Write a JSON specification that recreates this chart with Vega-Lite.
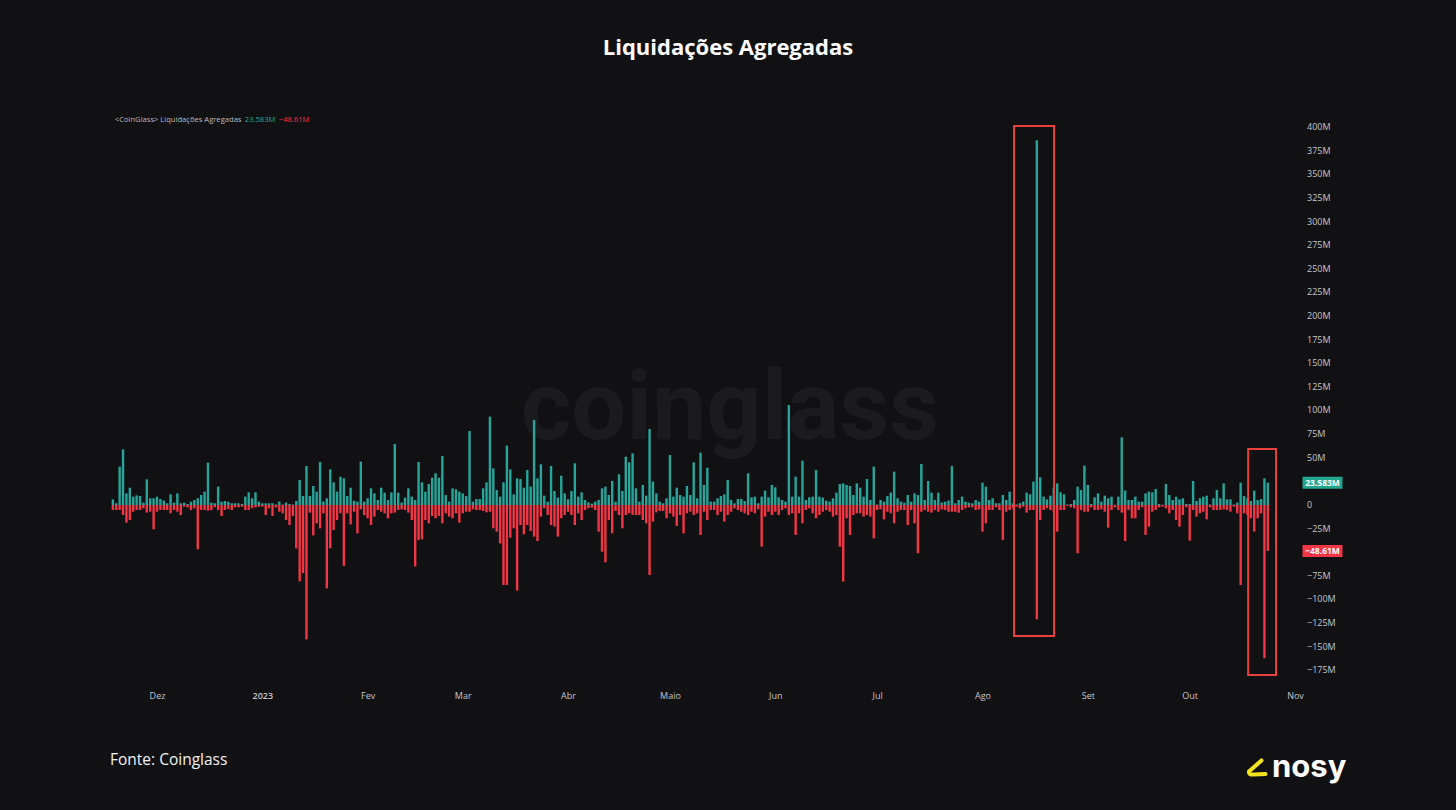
{
"$schema": "https://vega.github.io/schema/vega-lite/v6.json",
"width": 1198, "height": 575,
"autosize": {"type": "none"},
"padding": {"left": 100, "top": 110, "right": 158, "bottom": 125},
"background": "#111114",
"config": {"view": {"stroke": null}, "font": "Open Sans", "axis": {"grid": false, "domain": false, "ticks": false, "tickSize": 0}},
"title": {"text": "Liquidações Agregadas", "font": "Open Sans", "fontSize": 22, "fontWeight": "bold", "color": "#ffffff", "anchor": "middle", "frame": "group", "dx": 29, "offset": 50},
"data": {"values": [
{"d":"2022-11-18","l":6.0,"s":-5.3},{"d":"2022-11-19","l":1.8,"s":-5.3},{"d":"2022-11-20","l":40.6,"s":-5.3},{"d":"2022-11-21","l":58.9,"s":-10.6},{"d":"2022-11-22","l":12.3,"s":-18.7},{"d":"2022-11-23","l":18.3,"s":-15.9},{"d":"2022-11-24","l":8.8,"s":-7.1},{"d":"2022-11-25","l":10.2,"s":-5.3},{"d":"2022-11-26","l":9.5,"s":-5.3},{"d":"2022-11-27","l":2.5,"s":-3.5},{"d":"2022-11-28","l":27.2,"s":-8.1},{"d":"2022-11-29","l":7.1,"s":-7.1},{"d":"2022-11-30","l":7.1,"s":-25.7},
{"d":"2022-12-01","l":8.8,"s":-7.1},{"d":"2022-12-02","l":6.3,"s":-5.3},{"d":"2022-12-03","l":4.6,"s":-5.3},{"d":"2022-12-04","l":1.8,"s":-5.3},{"d":"2022-12-05","l":11.3,"s":-8.8},{"d":"2022-12-06","l":2.5,"s":-5.3},{"d":"2022-12-07","l":12.3,"s":-7.1},{"d":"2022-12-08","l":1.8,"s":-10.6},{"d":"2022-12-09","l":2.5,"s":-1.8},{"d":"2022-12-10","l":1.1,"s":-2.5},{"d":"2022-12-11","l":3.5,"s":-5.3},{"d":"2022-12-12","l":5.3,"s":-3.5},{"d":"2022-12-13","l":7.1,"s":-46.9},{"d":"2022-12-14","l":10.6,"s":-5.3},{"d":"2022-12-15","l":14.1,"s":-5.3},{"d":"2022-12-16","l":44.8,"s":-6.0},{"d":"2022-12-17","l":2.5,"s":-5.3},{"d":"2022-12-18","l":1.8,"s":-2.5},{"d":"2022-12-19","l":19.4,"s":-5.3},{"d":"2022-12-20","l":3.5,"s":-11.6},{"d":"2022-12-21","l":4.2,"s":-5.3},{"d":"2022-12-22","l":3.5,"s":-4.2},{"d":"2022-12-23","l":1.8,"s":-5.3},{"d":"2022-12-24","l":1.8,"s":-2.5},{"d":"2022-12-25","l":1.8,"s":-2.5},{"d":"2022-12-26","l":1.1,"s":-1.8},{"d":"2022-12-27","l":8.8,"s":-5.3},{"d":"2022-12-28","l":13.4,"s":-5.3},{"d":"2022-12-29","l":7.1,"s":-3.5},{"d":"2022-12-30","l":13.4,"s":-2.5},{"d":"2022-12-31","l":3.5,"s":-1.8},
{"d":"2023-01-01","l":1.8,"s":-1.8},{"d":"2023-01-02","l":1.8,"s":-10.6},{"d":"2023-01-03","l":1.8,"s":-3.5},{"d":"2023-01-04","l":1.8,"s":-11.6},{"d":"2023-01-05","l":0.5,"s":-2.5},{"d":"2023-01-06","l":3.5,"s":-7.1},{"d":"2023-01-07","l":0.5,"s":-8.8},{"d":"2023-01-08","l":2.5,"s":-15.9},{"d":"2023-01-09","l":1.1,"s":-21.2},{"d":"2023-01-10","l":0.5,"s":-11.6},{"d":"2023-01-11","l":4.2,"s":-45.9},{"d":"2023-01-12","l":26.5,"s":-80.8},{"d":"2023-01-13","l":9.5,"s":-72.0},{"d":"2023-01-14","l":41.3,"s":-142.2},{"d":"2023-01-15","l":9.5,"s":-8.1},{"d":"2023-01-16","l":20.1,"s":-32.2},{"d":"2023-01-17","l":14.1,"s":-19.4},{"d":"2023-01-18","l":45.5,"s":-24.7},{"d":"2023-01-19","l":3.5,"s":-8.8},{"d":"2023-01-20","l":7.1,"s":-88.2},{"d":"2023-01-21","l":37.7,"s":-45.9},{"d":"2023-01-22","l":24.0,"s":-26.5},{"d":"2023-01-23","l":14.1,"s":-15.9},{"d":"2023-01-24","l":29.9,"s":-8.8},{"d":"2023-01-25","l":28.2,"s":-64.4},{"d":"2023-01-26","l":9.5,"s":-8.8},{"d":"2023-01-27","l":18.3,"s":-20.5},{"d":"2023-01-28","l":4.6,"s":-7.1},{"d":"2023-01-29","l":3.5,"s":-30.0},{"d":"2023-01-30","l":45.9,"s":-4.6},{"d":"2023-01-31","l":3.5,"s":-10.6},
{"d":"2023-02-01","l":7.1,"s":-14.1},{"d":"2023-02-02","l":17.6,"s":-21.2},{"d":"2023-02-03","l":12.3,"s":-12.3},{"d":"2023-02-04","l":5.3,"s":-5.3},{"d":"2023-02-05","l":18.3,"s":-7.1},{"d":"2023-02-06","l":13.0,"s":-8.8},{"d":"2023-02-07","l":5.3,"s":-14.1},{"d":"2023-02-08","l":13.4,"s":-8.8},{"d":"2023-02-09","l":64.6,"s":-8.1},{"d":"2023-02-10","l":13.0,"s":-5.3},{"d":"2023-02-11","l":2.5,"s":-4.6},{"d":"2023-02-12","l":7.8,"s":-5.3},{"d":"2023-02-13","l":17.6,"s":-8.1},{"d":"2023-02-14","l":8.8,"s":-15.9},{"d":"2023-02-15","l":5.3,"s":-65.0},{"d":"2023-02-16","l":45.5,"s":-37.0},{"d":"2023-02-17","l":24.0,"s":-36.3},{"d":"2023-02-18","l":14.1,"s":-15.9},{"d":"2023-02-19","l":22.2,"s":-19.4},{"d":"2023-02-20","l":28.9,"s":-11.6},{"d":"2023-02-21","l":33.5,"s":-14.1},{"d":"2023-02-22","l":28.9,"s":-11.6},{"d":"2023-02-23","l":51.8,"s":-19.4},{"d":"2023-02-24","l":10.6,"s":-8.8},{"d":"2023-02-25","l":3.5,"s":-12.3},{"d":"2023-02-26","l":17.6,"s":-14.1},{"d":"2023-02-27","l":16.6,"s":-8.8},{"d":"2023-02-28","l":14.1,"s":-18.7},
{"d":"2023-03-01","l":12.3,"s":-8.8},{"d":"2023-03-02","l":9.5,"s":-7.1},{"d":"2023-03-03","l":78.3,"s":-7.1},{"d":"2023-03-04","l":3.5,"s":-4.6},{"d":"2023-03-05","l":6.3,"s":-5.3},{"d":"2023-03-06","l":6.3,"s":-5.3},{"d":"2023-03-07","l":17.6,"s":-6.3},{"d":"2023-03-08","l":24.0,"s":-7.8},{"d":"2023-03-09","l":93.5,"s":-7.1},{"d":"2023-03-10","l":38.8,"s":-24.7},{"d":"2023-03-11","l":15.9,"s":-28.2},{"d":"2023-03-12","l":8.8,"s":-40.6},{"d":"2023-03-13","l":24.0,"s":-84.7},{"d":"2023-03-14","l":62.8,"s":-84.7},{"d":"2023-03-15","l":37.7,"s":-34.6},{"d":"2023-03-16","l":11.3,"s":-24.7},{"d":"2023-03-17","l":28.2,"s":-90.7},{"d":"2023-03-18","l":27.5,"s":-21.2},{"d":"2023-03-19","l":18.3,"s":-31.0},{"d":"2023-03-20","l":37.0,"s":-21.2},{"d":"2023-03-21","l":19.4,"s":-27.5},{"d":"2023-03-22","l":90.0,"s":-33.5},{"d":"2023-03-23","l":28.2,"s":-38.1},{"d":"2023-03-24","l":43.0,"s":-12.3},{"d":"2023-03-25","l":9.9,"s":-3.5},{"d":"2023-03-26","l":3.5,"s":-10.6},{"d":"2023-03-27","l":41.3,"s":-21.2},{"d":"2023-03-28","l":14.8,"s":-22.9},{"d":"2023-03-29","l":7.8,"s":-33.5},{"d":"2023-03-30","l":31.0,"s":-14.1},{"d":"2023-03-31","l":12.3,"s":-10.6},
{"d":"2023-04-01","l":6.0,"s":-7.1},{"d":"2023-04-02","l":14.8,"s":-10.6},{"d":"2023-04-03","l":44.1,"s":-21.2},{"d":"2023-04-04","l":8.8,"s":-8.8},{"d":"2023-04-05","l":13.4,"s":-15.9},{"d":"2023-04-06","l":5.3,"s":-5.3},{"d":"2023-04-07","l":2.8,"s":-3.5},{"d":"2023-04-08","l":1.4,"s":-2.8},{"d":"2023-04-09","l":3.5,"s":-5.3},{"d":"2023-04-10","l":5.3,"s":-28.2},{"d":"2023-04-11","l":17.6,"s":-49.4},{"d":"2023-04-12","l":19.4,"s":-60.7},{"d":"2023-04-13","l":10.6,"s":-15.9},{"d":"2023-04-14","l":25.4,"s":-30.0},{"d":"2023-04-15","l":3.5,"s":-6.3},{"d":"2023-04-16","l":32.5,"s":-10.6},{"d":"2023-04-17","l":14.8,"s":-24.7},{"d":"2023-04-18","l":51.1,"s":-10.6},{"d":"2023-04-19","l":45.1,"s":-8.8},{"d":"2023-04-20","l":54.7,"s":-10.6},{"d":"2023-04-21","l":17.6,"s":-10.6},{"d":"2023-04-22","l":3.5,"s":-10.6},{"d":"2023-04-23","l":21.2,"s":-15.9},{"d":"2023-04-24","l":9.9,"s":-19.4},{"d":"2023-04-25","l":80.4,"s":-74.1},{"d":"2023-04-26","l":24.7,"s":-17.6},{"d":"2023-04-27","l":12.3,"s":-7.8},{"d":"2023-04-28","l":3.5,"s":-6.3},{"d":"2023-04-29","l":1.8,"s":-6.3},{"d":"2023-04-30","l":7.1,"s":-14.1},
{"d":"2023-05-01","l":52.9,"s":-8.8},{"d":"2023-05-02","l":8.8,"s":-12.3},{"d":"2023-05-03","l":18.3,"s":-22.2},{"d":"2023-05-04","l":10.6,"s":-10.6},{"d":"2023-05-05","l":8.8,"s":-30.0},{"d":"2023-05-06","l":20.1,"s":-8.8},{"d":"2023-05-07","l":10.6,"s":-7.1},{"d":"2023-05-08","l":45.1,"s":-10.6},{"d":"2023-05-09","l":7.1,"s":-8.8},{"d":"2023-05-10","l":55.4,"s":-31.7},{"d":"2023-05-11","l":21.2,"s":-7.1},{"d":"2023-05-12","l":39.5,"s":-15.9},{"d":"2023-05-13","l":3.5,"s":-5.3},{"d":"2023-05-14","l":3.5,"s":-5.3},{"d":"2023-05-15","l":7.1,"s":-10.6},{"d":"2023-05-16","l":9.5,"s":-7.1},{"d":"2023-05-17","l":11.3,"s":-17.6},{"d":"2023-05-18","l":26.5,"s":-10.6},{"d":"2023-05-19","l":5.3,"s":-7.1},{"d":"2023-05-20","l":1.8,"s":-3.5},{"d":"2023-05-21","l":6.3,"s":-5.3},{"d":"2023-05-22","l":6.3,"s":-7.1},{"d":"2023-05-23","l":4.2,"s":-8.8},{"d":"2023-05-24","l":33.5,"s":-10.6},{"d":"2023-05-25","l":8.1,"s":-7.1},{"d":"2023-05-26","l":8.8,"s":-8.8},{"d":"2023-05-27","l":1.8,"s":-4.6},{"d":"2023-05-28","l":8.8,"s":-44.1},{"d":"2023-05-29","l":15.2,"s":-12.3},{"d":"2023-05-30","l":8.1,"s":-7.1},{"d":"2023-05-31","l":21.2,"s":-10.6},
{"d":"2023-06-01","l":18.7,"s":-7.1},{"d":"2023-06-02","l":8.1,"s":-10.6},{"d":"2023-06-03","l":5.3,"s":-5.3},{"d":"2023-06-04","l":3.5,"s":-3.5},{"d":"2023-06-05","l":105.8,"s":-10.6},{"d":"2023-06-06","l":8.8,"s":-8.8},{"d":"2023-06-07","l":30.0,"s":-31.7},{"d":"2023-06-08","l":8.8,"s":-8.8},{"d":"2023-06-09","l":46.9,"s":-19.4},{"d":"2023-06-10","l":5.3,"s":-5.3},{"d":"2023-06-11","l":8.1,"s":-3.5},{"d":"2023-06-12","l":8.8,"s":-8.8},{"d":"2023-06-13","l":37.0,"s":-14.1},{"d":"2023-06-14","l":8.8,"s":-10.6},{"d":"2023-06-15","l":7.8,"s":-7.1},{"d":"2023-06-16","l":4.6,"s":-5.3},{"d":"2023-06-17","l":3.5,"s":-7.1},{"d":"2023-06-18","l":7.1,"s":-12.3},{"d":"2023-06-19","l":13.1,"s":-10.6},{"d":"2023-06-20","l":22.2,"s":-44.1},{"d":"2023-06-21","l":22.9,"s":-81.1},{"d":"2023-06-22","l":21.2,"s":-14.1},{"d":"2023-06-23","l":20.1,"s":-31.7},{"d":"2023-06-24","l":10.6,"s":-10.6},{"d":"2023-06-25","l":22.9,"s":-8.8},{"d":"2023-06-26","l":18.3,"s":-8.8},{"d":"2023-06-27","l":8.8,"s":-12.3},{"d":"2023-06-28","l":27.5,"s":-10.6},{"d":"2023-06-29","l":5.3,"s":-12.3},{"d":"2023-06-30","l":40.6,"s":-35.3},
{"d":"2023-07-01","l":0.5,"s":-5.3},{"d":"2023-07-02","l":5.3,"s":-4.6},{"d":"2023-07-03","l":3.5,"s":-15.2},{"d":"2023-07-04","l":9.5,"s":-7.1},{"d":"2023-07-05","l":13.1,"s":-8.8},{"d":"2023-07-06","l":35.3,"s":-19.4},{"d":"2023-07-07","l":7.1,"s":-7.1},{"d":"2023-07-08","l":3.5,"s":-5.3},{"d":"2023-07-09","l":2.5,"s":-5.3},{"d":"2023-07-10","l":10.6,"s":-21.2},{"d":"2023-07-11","l":3.5,"s":-5.3},{"d":"2023-07-12","l":12.3,"s":-19.4},{"d":"2023-07-13","l":10.6,"s":-51.1},{"d":"2023-07-14","l":43.4,"s":-7.1},{"d":"2023-07-15","l":5.3,"s":-5.3},{"d":"2023-07-16","l":25.4,"s":-7.1},{"d":"2023-07-17","l":13.1,"s":-8.1},{"d":"2023-07-18","l":5.3,"s":-5.3},{"d":"2023-07-19","l":13.1,"s":-7.1},{"d":"2023-07-20","l":2.5,"s":-4.6},{"d":"2023-07-21","l":3.5,"s":-5.3},{"d":"2023-07-22","l":4.6,"s":-7.1},{"d":"2023-07-23","l":41.3,"s":-7.1},{"d":"2023-07-24","l":1.8,"s":-7.1},{"d":"2023-07-25","l":5.3,"s":-8.1},{"d":"2023-07-26","l":8.8,"s":-5.3},{"d":"2023-07-27","l":3.5,"s":-3.5},{"d":"2023-07-28","l":2.5,"s":-2.5},{"d":"2023-07-29","l":1.8,"s":-2.5},{"d":"2023-07-30","l":5.3,"s":-5.3},{"d":"2023-07-31","l":3.5,"s":-4.6},
{"d":"2023-08-01","l":23.6,"s":-28.2},{"d":"2023-08-02","l":19.4,"s":-19.4},{"d":"2023-08-03","l":5.3,"s":-5.3},{"d":"2023-08-04","l":7.1,"s":-5.3},{"d":"2023-08-05","l":1.8,"s":-2.5},{"d":"2023-08-06","l":1.8,"s":-5.3},{"d":"2023-08-07","l":10.6,"s":-37.0},{"d":"2023-08-08","l":5.3,"s":-7.1},{"d":"2023-08-09","l":14.1,"s":-5.3},{"d":"2023-08-10","l":1.8,"s":-3.5},{"d":"2023-08-11","l":0.5,"s":-1.8},{"d":"2023-08-12","l":1.8,"s":-3.5},{"d":"2023-08-13","l":3.5,"s":-1.8},{"d":"2023-08-14","l":13.1,"s":-8.1},{"d":"2023-08-15","l":11.3,"s":-5.3},{"d":"2023-08-16","l":24.7,"s":-5.3},{"d":"2023-08-17","l":386,"s":-121},{"d":"2023-08-18","l":29.3,"s":-15.9},{"d":"2023-08-19","l":8.8,"s":-5.3},{"d":"2023-08-20","l":6.0,"s":-3.5},{"d":"2023-08-21","l":9.9,"s":-5.3},{"d":"2023-08-22","l":18.3,"s":-8.1},{"d":"2023-08-23","l":22.9,"s":-28.2},{"d":"2023-08-24","l":13.4,"s":-5.3},{"d":"2023-08-25","l":11.3,"s":-5.3},{"d":"2023-08-26","l":0.5,"s":-1.1},{"d":"2023-08-27","l":1.1,"s":-2.5},{"d":"2023-08-28","l":5.3,"s":-3.5},{"d":"2023-08-29","l":19.4,"s":-51.1},{"d":"2023-08-30","l":15.9,"s":-5.3},{"d":"2023-08-31","l":41.6,"s":-7.1},
{"d":"2023-09-01","l":21.2,"s":-7.1},{"d":"2023-09-02","l":1.1,"s":-2.5},{"d":"2023-09-03","l":8.1,"s":-5.3},{"d":"2023-09-04","l":12.3,"s":-5.3},{"d":"2023-09-05","l":3.5,"s":-4.6},{"d":"2023-09-06","l":9.9,"s":-7.1},{"d":"2023-09-07","l":7.1,"s":-24.0},{"d":"2023-09-08","l":8.8,"s":-5.3},{"d":"2023-09-09","l":0.3,"s":-2.5},{"d":"2023-09-10","l":8.8,"s":-5.3},{"d":"2023-09-11","l":71.6,"s":-8.1},{"d":"2023-09-12","l":15.2,"s":-38.1},{"d":"2023-09-13","l":5.3,"s":-5.3},{"d":"2023-09-14","l":5.3,"s":-14.1},{"d":"2023-09-15","l":8.8,"s":-14.1},{"d":"2023-09-16","l":3.5,"s":-5.3},{"d":"2023-09-17","l":3.5,"s":-2.5},{"d":"2023-09-18","l":12.3,"s":-31.7},{"d":"2023-09-19","l":14.1,"s":-22.9},{"d":"2023-09-20","l":13.4,"s":-7.1},{"d":"2023-09-21","l":16.9,"s":-5.3},{"d":"2023-09-22","l":1.1,"s":-2.5},{"d":"2023-09-23","l":0.3,"s":-1.8},{"d":"2023-09-24","l":22.2,"s":-3.5},{"d":"2023-09-25","l":10.6,"s":-8.8},{"d":"2023-09-26","l":5.3,"s":-5.3},{"d":"2023-09-27","l":8.8,"s":-15.9},{"d":"2023-09-28","l":6.0,"s":-22.9},{"d":"2023-09-29","l":7.1,"s":-10.6},{"d":"2023-09-30","l":1.1,"s":-2.5},
{"d":"2023-10-01","l":1.1,"s":-37.7},{"d":"2023-10-02","l":25.4,"s":-5.3},{"d":"2023-10-03","l":4.2,"s":-12.3},{"d":"2023-10-04","l":7.1,"s":-8.8},{"d":"2023-10-05","l":8.8,"s":-7.1},{"d":"2023-10-06","l":9.9,"s":-15.2},{"d":"2023-10-07","l":0.5,"s":-2.5},{"d":"2023-10-08","l":7.1,"s":-5.3},{"d":"2023-10-09","l":15.9,"s":-5.3},{"d":"2023-10-10","l":7.1,"s":-5.3},{"d":"2023-10-11","l":22.9,"s":-4.6},{"d":"2023-10-12","l":6.0,"s":-5.3},{"d":"2023-10-13","l":6.0,"s":-7.1},{"d":"2023-10-14","l":0.5,"s":-1.8},{"d":"2023-10-15","l":2.5,"s":-8.8},{"d":"2023-10-16","l":23.6,"s":-84.7},{"d":"2023-10-17","l":9.5,"s":-8.8},{"d":"2023-10-18","l":7.1,"s":-10.6},{"d":"2023-10-19","l":4.2,"s":-14.1},{"d":"2023-10-20","l":15.2,"s":-28.2},{"d":"2023-10-21","l":5.3,"s":-14.1},{"d":"2023-10-22","l":6.3,"s":-8.8},{"d":"2023-10-23","l":28.2,"s":-162.1},{"d":"2023-10-24","l":23.583,"s":-48.61}
]},
"layer": [
{
"data": {"values": [{}]},
"mark": {"type": "text", "font": "Roboto", "fontSize": 97, "fontWeight": "bold", "color": "#1b1b1f", "align": "center", "baseline": "middle"},
"encoding": {
"x": {"datum": {"year": 2023, "month": 5, "date": 18, "hours": 16, "utc": true}, "type": "temporal"},
"y": {"datum": 100.5, "type": "quantitative"},
"text": {"value": "coinglass"}
}
},
{
"mark": {"type": "bar", "width": 2.4, "color": "#26a69a"},
"encoding": {
"x": {"field": "d", "type": "temporal",
"scale": {"type": "utc", "padding": 0, "domain": [{"year": 2022, "month": 11, "date": 14, "hours": 5, "minutes": 17, "utc": true}, {"year": 2023, "month": 11, "date": 1, "hours": 21, "minutes": 11, "utc": true}]},
"axis": {"title": null, "orient": "bottom", "labelColor": "#c4c6cc", "labelFontSize": 9, "labelFont": "Open Sans", "labelPadding": 6, "labelFlush": false, "labelOverlap": false,
"values": [{"year":2022,"month":12,"date":1,"utc":true},{"year":2023,"month":1,"date":1,"utc":true},{"year":2023,"month":2,"date":1,"utc":true},{"year":2023,"month":3,"date":1,"utc":true},{"year":2023,"month":4,"date":1,"utc":true},{"year":2023,"month":5,"date":1,"utc":true},{"year":2023,"month":6,"date":1,"utc":true},{"year":2023,"month":7,"date":1,"utc":true},{"year":2023,"month":8,"date":1,"utc":true},{"year":2023,"month":9,"date":1,"utc":true},{"year":2023,"month":10,"date":1,"utc":true},{"year":2023,"month":11,"date":1,"utc":true}],
"labelExpr": "utcmonth(datum.value) == 0 ? '' + utcyear(datum.value) : ['Jan','Fev','Mar','Abr','Maio','Jun','Jul','Ago','Set','Out','Nov','Dez'][utcmonth(datum.value)]",
"labelFontWeight": {"condition": {"test": "utcmonth(datum.value) == 0", "value": 600}, "value": "normal"}}},
"y": {"field": "l", "type": "quantitative",
"scale": {"domain": [-190.5, 418], "nice": false, "zero": false},
"axis": {"title": null, "orient": "right", "labels": false}}
}
},
{
"mark": {"type": "bar", "width": 2.4, "color": "#f23645"},
"encoding": {
"x": {"field": "d", "type": "temporal"},
"y": {"field": "s", "type": "quantitative"}
}
},
{
"data": {"values": [
{"v":400,"t":"400M"},{"v":375,"t":"375M"},{"v":350,"t":"350M"},{"v":325,"t":"325M"},{"v":300,"t":"300M"},{"v":275,"t":"275M"},{"v":250,"t":"250M"},{"v":225,"t":"225M"},{"v":200,"t":"200M"},{"v":175,"t":"175M"},{"v":150,"t":"150M"},{"v":125,"t":"125M"},{"v":100,"t":"100M"},{"v":75,"t":"75M"},{"v":50,"t":"50M"},{"v":0,"t":"0"},{"v":-25,"t":"−25M"},{"v":-75,"t":"−75M"},{"v":-100,"t":"−100M"},{"v":-125,"t":"−125M"},{"v":-150,"t":"−150M"},{"v":-175,"t":"−175M"}
]},
"mark": {"type": "text", "font": "Open Sans", "fontSize": 9, "color": "#c4c6cc", "align": "left", "baseline": "middle", "dx": 9},
"encoding": {
"x": {"datum": {"year": 2023, "month": 11, "date": 1, "hours": 21, "minutes": 11, "utc": true}, "type": "temporal"},
"y": {"field": "v", "type": "quantitative"},
"text": {"field": "t"}
}
},
{
"data": {"values": [
{"a":"2023-08-10T07:00:00Z","b":"2023-08-22T02:00:00Z","hi":401,"lo":-138.6},
{"a":"2023-10-18T05:00:00Z","b":"2023-10-26T10:00:00Z","hi":59.3,"lo":-179.9}
]},
"mark": {"type": "rect", "filled": false, "stroke": "#e8403d", "strokeWidth": 2},
"encoding": {
"x": {"field": "a", "type": "temporal"},
"x2": {"field": "b"},
"y": {"field": "hi", "type": "quantitative"},
"y2": {"field": "lo"}
}
},
{
"data": {"values": [{"v":23.583,"t":"23.583M","c":"g"},{"v":-48.61,"t":"−48.61M","c":"r"}]},
"layer": [
{
"mark": {"type": "point", "shape": "M-1,-0.3L1,-0.3L1,0.3L-1,0.3Z", "size": 1600, "filled": true, "opacity": 1, "strokeWidth": 0, "xOffset": 24.5},
"encoding": {
"x": {"datum": {"year": 2023, "month": 11, "date": 1, "hours": 21, "minutes": 11, "utc": true}, "type": "temporal"},
"y": {"field": "v", "type": "quantitative"},
"color": {"field": "c", "type": "nominal", "scale": {"domain": ["g", "r"], "range": ["#22a68f", "#f23645"]}, "legend": null}
}
},
{
"mark": {"type": "text", "font": "Open Sans", "fontSize": 8.5, "fontWeight": "bold", "color": "#ffffff", "align": "center", "baseline": "middle", "dx": 24.5},
"encoding": {
"x": {"datum": {"year": 2023, "month": 11, "date": 1, "hours": 21, "minutes": 11, "utc": true}, "type": "temporal"},
"y": {"field": "v", "type": "quantitative"},
"text": {"field": "t"}
}
}
]
},
{
"data": {"values": [{}]},
"mark": {"type": "text", "font": "Open Sans", "fontSize": 7.6, "color": "#b8bbc2", "align": "left", "baseline": "middle", "dx": 2},
"encoding": {
"x": {"datum": {"year": 2022, "month": 11, "date": 18, "utc": true}, "type": "temporal"},
"y": {"datum": 407.4, "type": "quantitative"},
"text": {"value": "<CoinGlass> Liquidações Agregadas"}
}
},
{
"data": {"values": [{}]},
"mark": {"type": "text", "font": "Open Sans", "fontSize": 7.6, "color": "#26a69a", "align": "left", "baseline": "middle", "dx": 132},
"encoding": {
"x": {"datum": {"year": 2022, "month": 11, "date": 18, "utc": true}, "type": "temporal"},
"y": {"datum": 407.4, "type": "quantitative"},
"text": {"value": "23.583M"}
}
},
{
"data": {"values": [{}]},
"mark": {"type": "text", "font": "Open Sans", "fontSize": 7.6, "color": "#f23645", "align": "left", "baseline": "middle", "dx": 166},
"encoding": {
"x": {"datum": {"year": 2022, "month": 11, "date": 18, "utc": true}, "type": "temporal"},
"y": {"datum": 407.4, "type": "quantitative"},
"text": {"value": "−48.61M"}
}
},
{
"data": {"values": [{}]},
"mark": {"type": "text", "font": "Open Sans", "fontSize": 15.5, "color": "#f2f2f2", "align": "left", "baseline": "middle", "dx": 10},
"encoding": {
"x": {"datum": {"year": 2022, "month": 11, "date": 14, "hours": 5, "minutes": 17, "utc": true}, "type": "temporal"},
"y": {"datum": -269.8, "type": "quantitative"},
"text": {"value": "Fonte: Coinglass"}
}
},
{
"data": {"values": [{}]},
"mark": {"type": "point", "shape": "M0.45,-0.75L-0.8,0.35Q-0.85,0.7 -0.35,0.65L0.85,0.6", "size": 400, "filled": false, "stroke": "#f2e41c", "strokeWidth": 4, "strokeCap": "round", "strokeJoin": "round", "opacity": 1, "xOffset": -41},
"encoding": {
"x": {"datum": {"year": 2023, "month": 11, "date": 1, "hours": 21, "minutes": 11, "utc": true}, "type": "temporal"},
"y": {"datum": -278.3, "type": "quantitative"}
}
},
{
"data": {"values": [{}]},
"mark": {"type": "text", "font": "Inter", "fontSize": 31, "fontWeight": "bold", "color": "#ffffff", "align": "left", "baseline": "alphabetic", "dx": -26},
"encoding": {
"x": {"datum": {"year": 2023, "month": 11, "date": 1, "hours": 21, "minutes": 11, "utc": true}, "type": "temporal"},
"y": {"datum": -287.8, "type": "quantitative"},
"text": {"value": "nosy"}
}
}
]
}
